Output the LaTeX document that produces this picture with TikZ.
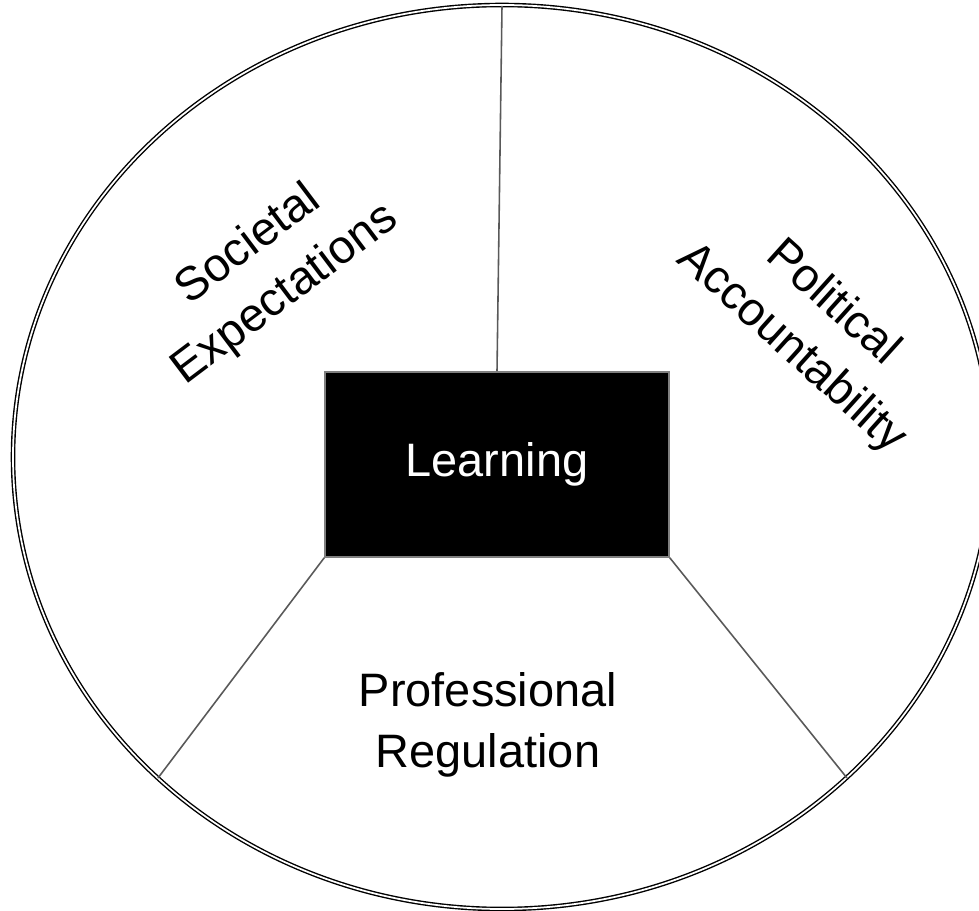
\documentclass[tikz,border=0pt]{standalone}
\usepackage{fontspec}
\setmainfont{Liberation Sans}
\usetikzlibrary{positioning}
\tikzset{
  ring/.style={draw=black,double=white,line width=0.8pt,double distance=1pt},
  divider/.style={draw=gray!70!black,line width=0.9pt},
  core/.style={rectangle,fill=black,draw=gray,line width=0.9pt,text=white,
    minimum width=6.88cm,minimum height=3.7cm},
  sector/.style={align=center,font=\fontsize{26.7}{35}\selectfont}
}

\begin{document}
\begin{tikzpicture}[x=0.02cm,y=-0.02cm]
    \useasboundingbox (0,0) rectangle (979,911);
    % outer ring
    \draw[ring] (502,457) ellipse [x radius=489, y radius=452];
    %
    \node[core] (learn) at (497,464.5) {\fontsize{26.7}{33.6}\selectfont Learning};
    %
    \coordinate (top) at (502,6);
    \coordinate (lowleft) at (158,778);
    \coordinate (lowright) at (847,778);
    \draw[divider] (top) -- (learn.north);
    \draw[divider] (learn.south west) -- (lowleft);
    \draw[divider] (learn.south east) -- (lowright);
    %
    \node[sector,rotate=37] (society) at (267,270) {Societal\\Expectations};
    \node[sector,rotate=-42] (politics) at (812,326) {Political\\Accountability};
    \node[sector] (profession) at (488,725) {Professional\\Regulation};
\end{tikzpicture}
\end{document}
